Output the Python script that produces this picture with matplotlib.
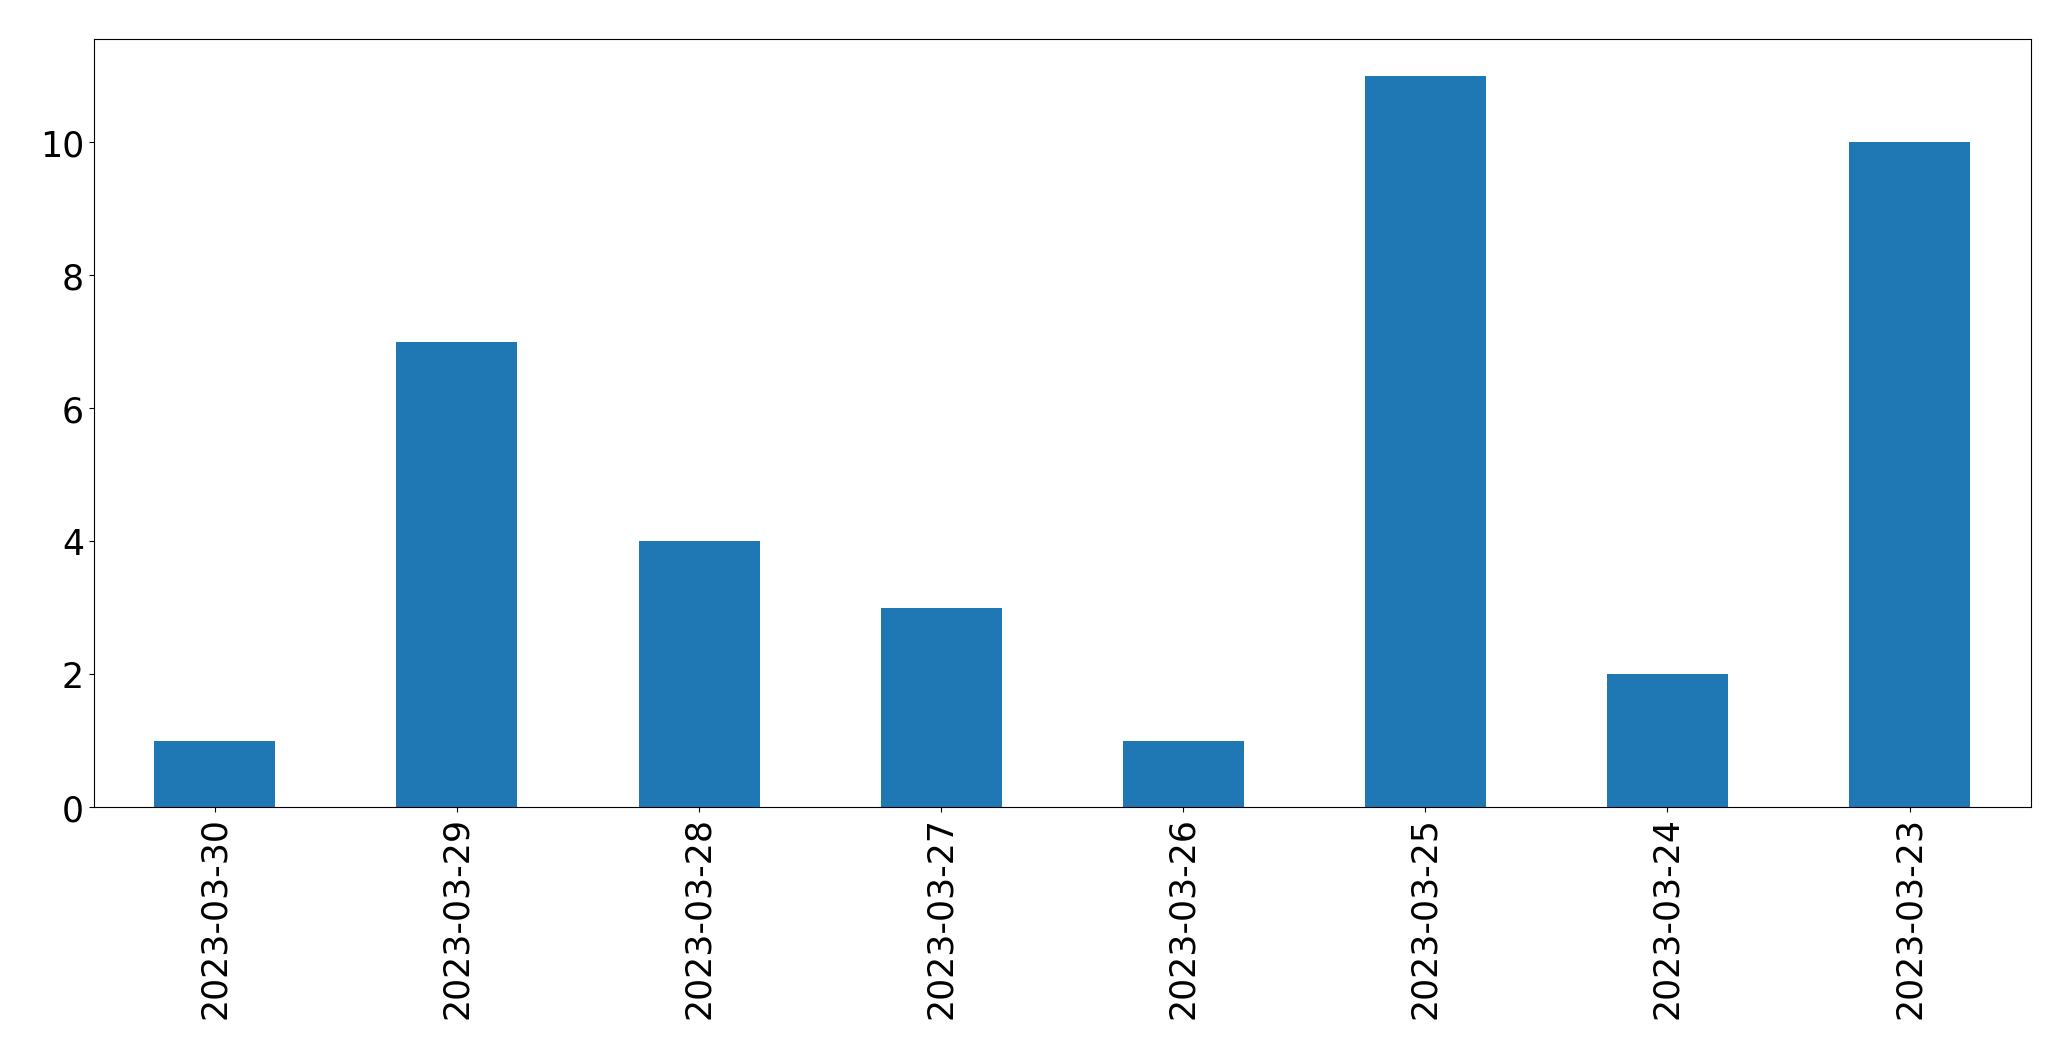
import matplotlib
matplotlib.use("Agg")
import matplotlib.pyplot as plt
import pandas as pd

dates = ["2023-03-30", "2023-03-29", "2023-03-28", "2023-03-27",
         "2023-03-26", "2023-03-25", "2023-03-24", "2023-03-23"]
counts = [1, 7, 4, 3, 1, 11, 2, 10]

s = pd.Series(counts, index=dates)

fig, ax = plt.subplots(figsize=(20.71, 10.605), dpi=100)
s.plot(kind="bar", ax=ax, color="#1f77b4", fontsize=25)
ax.tick_params(axis="both", labelsize=25)
fig.subplots_adjust(left=0.0453, right=0.9805, top=0.9627, bottom=0.2385)
fig.savefig("out.png", dpi=100)
